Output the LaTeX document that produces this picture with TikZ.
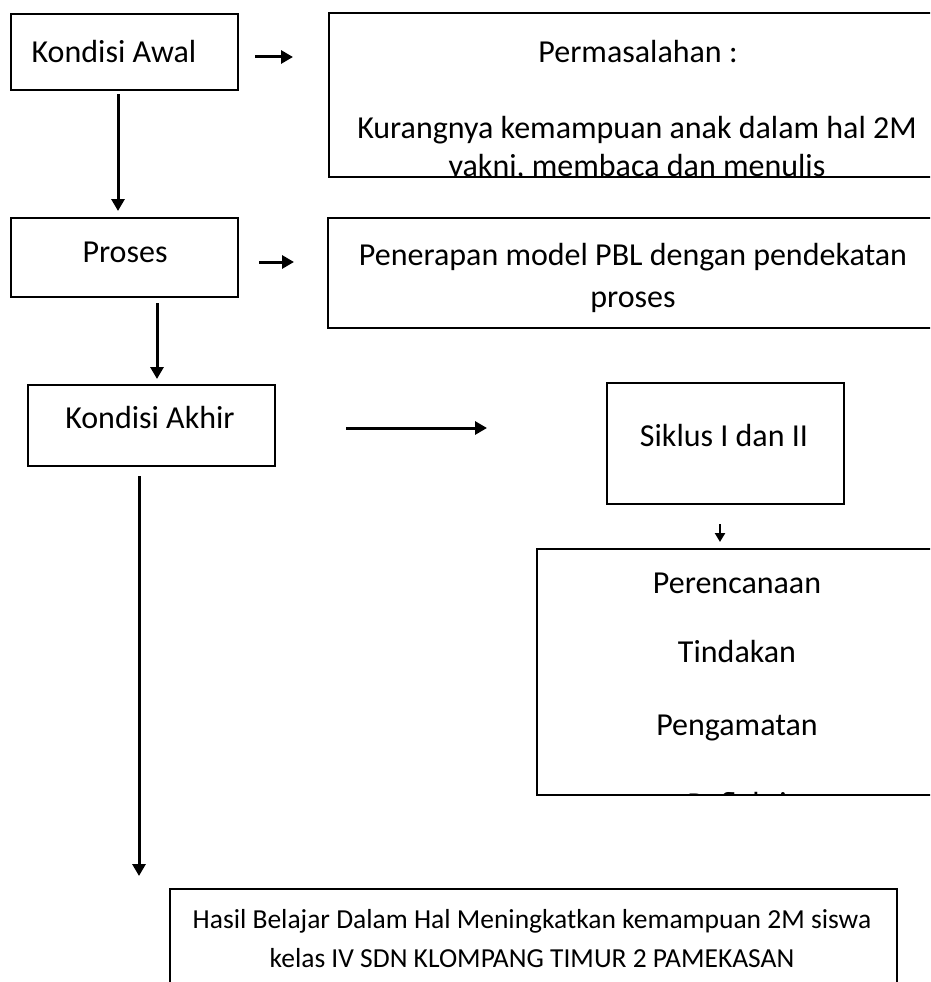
\documentclass[tikz,border=0pt]{standalone}
\usepackage{fontspec}
\setmainfont{Carlito}
\usetikzlibrary{arrows.meta}
\begin{document}
\begin{tikzpicture}[x=1pt,y=-1pt,
  box/.style={draw, line width=2pt, inner sep=0pt},
  lbl/.style={font=\fontsize{32}{38}\selectfont, inner sep=0pt, anchor=mid},
  lblsmall/.style={font=\fontsize{27.5}{33}\selectfont, inner sep=0pt, anchor=mid},
  arr/.style={line width=3pt, -{Triangle[length=12pt,width=13pt]}}]
\path[use as bounding box, clip] (0,0) rectangle (930,982);
\fill[white] (0,0) rectangle (930,982);

% boxes
\node[box, minimum width=227pt, minimum height=76pt] (awal) at (124.5,52) {};
\node[box, minimum width=631pt, minimum height=164pt] (perm) at (644.5,95) {};
\node[box, minimum width=227pt, minimum height=79pt] (proses) at (124.5,257.5) {};
\node[box, minimum width=632pt, minimum height=110pt] (pen) at (644,273) {};
\node[box, minimum width=247pt, minimum height=81pt] (akhir) at (151.5,425.5) {};
\node[box, minimum width=237pt, minimum height=121pt] (siklus) at (725.5,443.5) {};
\node[box, minimum width=423pt, minimum height=246pt] (plan) at (748.5,672) {};
\node[box, minimum width=727pt, minimum height=121pt] (hasil) at (533.5,949.5) {};

% texts
\node[lbl] (tawal) at (114,60) {Kondisi Awal};
\node[lbl] (tperm1) at (638,60) {Permasalahan :};
\node[lbl] (tperm2) at (637,136) {Kurangnya kemampuan anak dalam hal 2M};
\begin{scope}
  \clip ([yshift=1pt]perm.south west) rectangle ([yshift=-1pt]perm.north east);
  \node[lbl] (tperm3) at (637,174) {yakni, membaca dan menulis};
\end{scope}
\node[lbl] (tproses) at (125,260) {Proses};
\node[lbl] (tpen1) at (633,263) {Penerapan model PBL dengan pendekatan};
\node[lbl] (tpen2) at (633,305) {proses};
\node[lbl] (takhir) at (150,426) {Kondisi Akhir};
\node[lbl] (tsiklus) at (724,444) {Siklus I dan II};
\node[lbl] (tplan1) at (737,591) {Perencanaan};
\node[lbl] (tplan2) at (737,660) {Tindakan};
\node[lbl] (tplan3) at (737,733) {Pengamatan};
\begin{scope}
  \clip ([yshift=1pt]plan.south west) rectangle ([yshift=-1pt]plan.north east);
  \node[lbl] (tplan4) at (737,812.5) {Refleksi};
\end{scope}
\node[lblsmall] (thasil1) at (532,926) {Hasil Belajar Dalam Hal Meningkatkan kemampuan 2M siswa};
\node[lblsmall] (thasil2) at (532,965) {kelas IV SDN KLOMPANG TIMUR 2 PAMEKASAN};

% connectors
\draw[arr, shorten <=16pt, shorten >=35pt] ([yshift=-5pt]awal.east) -- ([yshift=-5pt]awal.east -| perm.west);
\draw[arr, shorten <=3pt, shorten >=6pt] ([xshift=-6.5pt]awal.south) -- ([xshift=-6.5pt]awal.south |- proses.north);
\draw[arr, shorten <=20pt, shorten >=33pt] ([yshift=-4.5pt]proses.east) -- ([yshift=-4.5pt]proses.east -| pen.west);
\draw[arr, shorten <=5pt, shorten >=5pt] ([xshift=32.5pt]proses.south) -- ([xshift=32.5pt]proses.south |- akhir.north);
\draw[arr, shorten <=70pt, shorten >=119pt] ([yshift=-2.5pt]akhir.east) -- ([yshift=-2.5pt]akhir.east -| siklus.west);
\draw[arr, line width=2.5pt, -{Triangle[length=9pt,width=10pt]}, shorten <=19pt, shorten >=6pt] ([xshift=-5.5pt]siklus.south) -- ([xshift=-5.5pt]siklus.south |- plan.north);
\draw[arr, shorten <=9pt, shorten >=12pt] ([xshift=-12.5pt]akhir.south) -- ([xshift=-12.5pt]akhir.south |- hasil.north);
\end{tikzpicture}
\end{document}
